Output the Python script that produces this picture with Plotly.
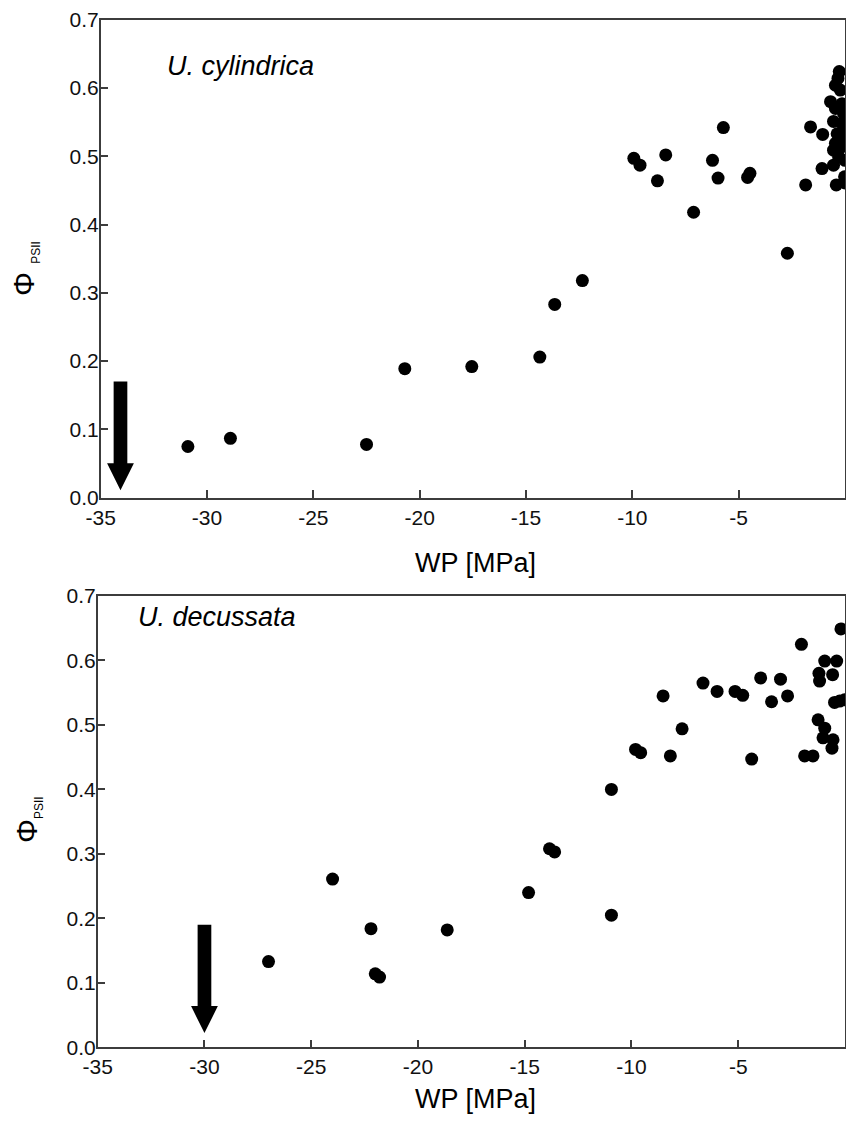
import plotly.graph_objects as go

# ---------------- data ----------------
cyl_wp = [-30.9, -28.9, -22.5, -20.7, -17.55, -14.35, -13.65, -12.35,
          -9.93, -9.64, -8.82, -8.43, -7.12, -6.23, -5.97, -5.72, -4.58, -4.47,
          -2.71, -1.85, -1.62, -1.05, -1.08,
          -0.27, -0.33, -0.45, -0.22, -0.68, -0.45, -0.14, -0.07, -0.54, -0.14,
          -0.37, -0.07, -0.45, -0.14, -0.54, -0.30, 0.0, -0.54, -0.41, -0.02, 0.0]
cyl_phi = [0.075, 0.087, 0.078, 0.189, 0.192, 0.206, 0.283, 0.318,
           0.497, 0.487, 0.464, 0.502, 0.418, 0.494, 0.468, 0.542, 0.469, 0.475,
           0.358, 0.458, 0.543, 0.532, 0.482,
           0.624, 0.614, 0.604, 0.597, 0.580, 0.570, 0.577, 0.563, 0.551, 0.548,
           0.533, 0.531, 0.519, 0.514, 0.509, 0.499, 0.494, 0.487, 0.458, 0.470, 0.461]

dec_wp = [-27.0, -24.0, -22.2, -22.0, -21.8, -18.63, -14.82, -13.84, -13.6,
          -10.94, -10.94, -9.81, -9.57, -8.18, -7.63, -8.52, -6.65, -5.99, -5.15,
          -4.79, -4.37, -3.95, -3.44, -3.02, -2.69, -2.04, -1.89, -1.5, -1.26,
          -0.95, -1.22, -1.19, -0.95, -0.39, -0.58, -1.03, -0.56, -0.61, -0.49,
          -0.25, -0.02, -0.19]
dec_phi = [0.133, 0.261, 0.184, 0.114, 0.109, 0.182, 0.240, 0.308, 0.303,
           0.400, 0.205, 0.462, 0.457, 0.452, 0.494, 0.545, 0.565, 0.552, 0.552,
           0.546, 0.447, 0.573, 0.536, 0.571, 0.545, 0.625, 0.452, 0.452, 0.508,
           0.495, 0.580, 0.568, 0.599, 0.599, 0.578, 0.480, 0.477, 0.464, 0.535,
           0.537, 0.539, 0.649]

x_ticks = [-35, -30, -25, -20, -15, -10, -5, 0]
y_ticks = [0.0, 0.1, 0.2, 0.3, 0.4, 0.5, 0.6, 0.7]
x_range = [-35, 0]
y_range = [0, 0.7]

# arrows (x position, start value, tip value)
cyl_arrow = (-34.07, 0.17, 0.011)
dec_arrow = (-30.0, 0.19, 0.022)

# ---------------- layout geometry ----------------
PAGE_OFF = 8            # default body margin of the html page
W, H = 838, 1106
RIGHT_PX = 845          # right frame (x = 0) in page pixels
FONT = "Liberation Sans, Arial, sans-serif"
LINE = "#3c3c3c"


def px_x(px):
    return min(1.0, (px - PAGE_OFF) / W)


def px_y(py):
    return 1 - (py - PAGE_OFF) / H


top_dom_x = [px_x(100.7), px_x(RIGHT_PX)]
top_dom_y = [px_y(497.7), px_y(19.7)]
bot_dom_x = [px_x(97.7), px_x(RIGHT_PX)]
bot_dom_y = [px_y(1047.3), px_y(596)]

fig = go.Figure()
fig.add_trace(go.Scatter(x=cyl_wp, y=cyl_phi, mode="markers",
                         marker=dict(color="black", size=13, line=dict(width=0)),
                         xaxis="x", yaxis="y", showlegend=False, cliponaxis=True))
fig.add_trace(go.Scatter(x=dec_wp, y=dec_phi, mode="markers",
                         marker=dict(color="black", size=13, line=dict(width=0)),
                         xaxis="x2", yaxis="y2", showlegend=False, cliponaxis=True))


def xaxis(domain, anchor):
    return dict(domain=domain, anchor=anchor, range=x_range, tickvals=x_ticks,
                ticktext=[str(v) for v in x_ticks], showgrid=False, zeroline=False,
                showline=True, linecolor=LINE, linewidth=1.5, mirror=True,
                ticks="inside", ticklen=8, tickwidth=1.5, tickcolor=LINE,
                tickfont=dict(family=FONT, size=21, color="#111"), automargin=False,
                fixedrange=True)


def yaxis(domain, anchor):
    return dict(domain=domain, anchor=anchor, range=y_range, tickvals=y_ticks,
                ticktext=["%.1f" % v for v in y_ticks], showgrid=False, zeroline=False,
                showline=True, linecolor=LINE, linewidth=1.5, mirror=True,
                ticks="inside", ticklen=8, tickwidth=1.5, tickcolor=LINE,
                ticklabelstandoff=-4,
                tickfont=dict(family=FONT, size=21, color="#111"), automargin=False,
                fixedrange=True)


def arrow_path(arrow, xaxis_len_px, yaxis_len_px, xref, yref):
    x0, ys, yt = arrow
    ux = (x_range[1] - x_range[0]) / xaxis_len_px   # data units per pixel (x)
    uy = (y_range[1] - y_range[0]) / yaxis_len_px   # data units per pixel (y)
    sw = 6.85 * ux
    hw = 13.4 * ux
    hh = 27 * uy
    yh = yt + hh
    path = (f"M {x0 - sw},{ys} L {x0 + sw},{ys} L {x0 + sw},{yh} L {x0 + hw},{yh} "
            f"L {x0},{yt} L {x0 - hw},{yh} L {x0 - sw},{yh} Z")
    return dict(type="path", path=path, xref=xref, yref=yref,
                fillcolor="black", line=dict(width=0))


shapes = [
    arrow_path(cyl_arrow, RIGHT_PX - 100.7, 497.7 - 19.7, "x", "y"),
    arrow_path(dec_arrow, RIGHT_PX - 97.7, 1047.3 - 596, "x2", "y2"),
]

annotations = [
    dict(text="<i>U. cylindrica</i>", x=-32.0, y=0.632, xref="x", yref="y",
         xanchor="left", yanchor="middle", showarrow=False,
         font=dict(family=FONT, size=27, color="black")),
    dict(text="<i>U. decussata</i>", x=-33.2, y=0.668, xref="x2", yref="y2",
         xanchor="left", yanchor="middle", showarrow=False,
         font=dict(family=FONT, size=27, color="black")),
    dict(text="WP [MPa]", x=px_x(475), y=px_y(563), xref="paper", yref="paper",
         xanchor="center", yanchor="middle", showarrow=False,
         font=dict(family=FONT, size=27, color="black")),
    dict(text="WP [MPa]", x=px_x(475), y=px_y(1099), xref="paper", yref="paper",
         xanchor="center", yanchor="middle", showarrow=False,
         font=dict(family=FONT, size=27, color="black")),
    dict(text="Φ <sub><span style='font-size:12px'>PSII</span></sub>",
         x=px_x(25), y=px_y(269), xref="paper", yref="paper",
         xanchor="center", yanchor="middle", textangle=-90, showarrow=False,
         font=dict(family=FONT, size=30, color="black")),
    dict(text="Φ<sub><span style='font-size:12px'>PSII</span></sub>",
         x=px_x(28), y=px_y(820), xref="paper", yref="paper",
         xanchor="center", yanchor="middle", textangle=-90, showarrow=False,
         font=dict(family=FONT, size=30, color="black")),
]

fig.update_layout(
    width=W, height=H, margin=dict(l=0, r=0, t=0, b=0),
    paper_bgcolor="white", plot_bgcolor="white",
    xaxis=xaxis(top_dom_x, "y"), yaxis=yaxis(top_dom_y, "x"),
    xaxis2=xaxis(bot_dom_x, "y2"), yaxis2=yaxis(bot_dom_y, "x2"),
    shapes=shapes, annotations=annotations, showlegend=False,
)

fig.write_html("out.html")
